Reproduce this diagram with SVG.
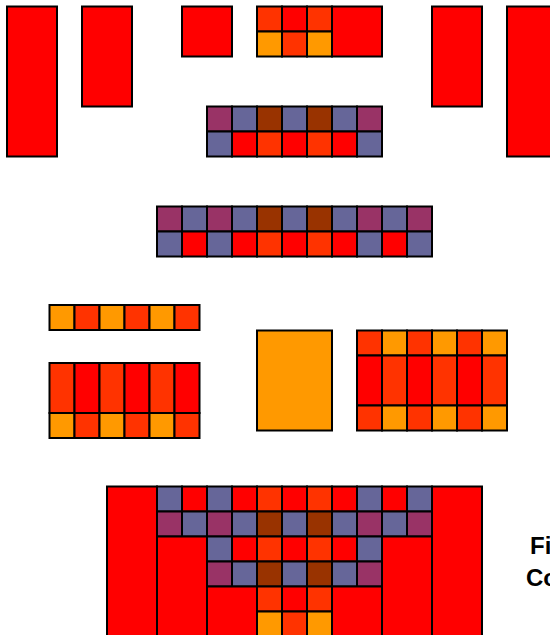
<svg xmlns="http://www.w3.org/2000/svg" width="550" height="635" viewBox="0 0 550 635">
<style>
rect{stroke:#000;stroke-width:2}
rect.bg{fill:#fff;stroke:none}
.r{fill:#FF0000}.o{fill:#FF3300}.y{fill:#FF9900}.p{fill:#993366}.b{fill:#666699}.n{fill:#993300}
text{font-family:"Liberation Sans",Arial,sans-serif;font-weight:bold;font-size:24px;fill:#000}
</style>
<rect class="bg" x="0" y="0" width="550" height="635"/>
<g id="top-row">
<rect class="r" x="7" y="6.5" width="50" height="150"/>
<rect class="r" x="82" y="6.5" width="50" height="100"/>
<rect class="r" x="182" y="6.5" width="50" height="50"/>
<rect class="o" x="257" y="6.5" width="25" height="25"/>
<rect class="r" x="282" y="6.5" width="25" height="25"/>
<rect class="o" x="307" y="6.5" width="25" height="25"/>
<rect class="y" x="257" y="31.5" width="25" height="25"/>
<rect class="o" x="282" y="31.5" width="25" height="25"/>
<rect class="y" x="307" y="31.5" width="25" height="25"/>
<rect class="r" x="332" y="6.5" width="50" height="50"/>
<rect class="r" x="432" y="6.5" width="50" height="100"/>
<rect class="r" x="507" y="6.5" width="50" height="150"/>
</g>
<g id="grid-7">
<rect class="p" x="207" y="106.5" width="25" height="25"/>
<rect class="b" x="232" y="106.5" width="25" height="25"/>
<rect class="n" x="257" y="106.5" width="25" height="25"/>
<rect class="b" x="282" y="106.5" width="25" height="25"/>
<rect class="n" x="307" y="106.5" width="25" height="25"/>
<rect class="b" x="332" y="106.5" width="25" height="25"/>
<rect class="p" x="357" y="106.5" width="25" height="25"/>
<rect class="b" x="207" y="131.5" width="25" height="25"/>
<rect class="r" x="232" y="131.5" width="25" height="25"/>
<rect class="o" x="257" y="131.5" width="25" height="25"/>
<rect class="r" x="282" y="131.5" width="25" height="25"/>
<rect class="o" x="307" y="131.5" width="25" height="25"/>
<rect class="r" x="332" y="131.5" width="25" height="25"/>
<rect class="b" x="357" y="131.5" width="25" height="25"/>
</g>
<g id="grid-11">
<rect class="p" x="157" y="206.5" width="25" height="25"/>
<rect class="b" x="182" y="206.5" width="25" height="25"/>
<rect class="p" x="207" y="206.5" width="25" height="25"/>
<rect class="b" x="232" y="206.5" width="25" height="25"/>
<rect class="n" x="257" y="206.5" width="25" height="25"/>
<rect class="b" x="282" y="206.5" width="25" height="25"/>
<rect class="n" x="307" y="206.5" width="25" height="25"/>
<rect class="b" x="332" y="206.5" width="25" height="25"/>
<rect class="p" x="357" y="206.5" width="25" height="25"/>
<rect class="b" x="382" y="206.5" width="25" height="25"/>
<rect class="p" x="407" y="206.5" width="25" height="25"/>
<rect class="b" x="157" y="231.5" width="25" height="25"/>
<rect class="r" x="182" y="231.5" width="25" height="25"/>
<rect class="b" x="207" y="231.5" width="25" height="25"/>
<rect class="r" x="232" y="231.5" width="25" height="25"/>
<rect class="o" x="257" y="231.5" width="25" height="25"/>
<rect class="r" x="282" y="231.5" width="25" height="25"/>
<rect class="o" x="307" y="231.5" width="25" height="25"/>
<rect class="r" x="332" y="231.5" width="25" height="25"/>
<rect class="b" x="357" y="231.5" width="25" height="25"/>
<rect class="r" x="382" y="231.5" width="25" height="25"/>
<rect class="b" x="407" y="231.5" width="25" height="25"/>
</g>
<g id="left-strip">
<rect class="y" x="49.5" y="305" width="25" height="25"/>
<rect class="o" x="74.5" y="305" width="25" height="25"/>
<rect class="y" x="99.5" y="305" width="25" height="25"/>
<rect class="o" x="124.5" y="305" width="25" height="25"/>
<rect class="y" x="149.5" y="305" width="25" height="25"/>
<rect class="o" x="174.5" y="305" width="25" height="25"/>
</g>
<g id="left-block">
<rect class="o" x="49.5" y="363" width="25" height="50"/>
<rect class="r" x="74.5" y="363" width="25" height="50"/>
<rect class="o" x="99.5" y="363" width="25" height="50"/>
<rect class="r" x="124.5" y="363" width="25" height="50"/>
<rect class="o" x="149.5" y="363" width="25" height="50"/>
<rect class="r" x="174.5" y="363" width="25" height="50"/>
<rect class="y" x="49.5" y="413" width="25" height="25"/>
<rect class="o" x="74.5" y="413" width="25" height="25"/>
<rect class="y" x="99.5" y="413" width="25" height="25"/>
<rect class="o" x="124.5" y="413" width="25" height="25"/>
<rect class="y" x="149.5" y="413" width="25" height="25"/>
<rect class="o" x="174.5" y="413" width="25" height="25"/>
</g>
<g id="orange-block">
<rect class="y" x="257" y="330.5" width="75" height="100"/>
</g>
<g id="right-block">
<rect class="o" x="357" y="330.5" width="25" height="25"/>
<rect class="y" x="382" y="330.5" width="25" height="25"/>
<rect class="o" x="407" y="330.5" width="25" height="25"/>
<rect class="y" x="432" y="330.5" width="25" height="25"/>
<rect class="o" x="457" y="330.5" width="25" height="25"/>
<rect class="y" x="482" y="330.5" width="25" height="25"/>
<rect class="r" x="357" y="355.5" width="25" height="50"/>
<rect class="o" x="382" y="355.5" width="25" height="50"/>
<rect class="r" x="407" y="355.5" width="25" height="50"/>
<rect class="o" x="432" y="355.5" width="25" height="50"/>
<rect class="r" x="457" y="355.5" width="25" height="50"/>
<rect class="o" x="482" y="355.5" width="25" height="50"/>
<rect class="o" x="357" y="405.5" width="25" height="25"/>
<rect class="y" x="382" y="405.5" width="25" height="25"/>
<rect class="o" x="407" y="405.5" width="25" height="25"/>
<rect class="y" x="432" y="405.5" width="25" height="25"/>
<rect class="o" x="457" y="405.5" width="25" height="25"/>
<rect class="y" x="482" y="405.5" width="25" height="25"/>
</g>
<g id="bottom-figure">
<rect class="r" x="107" y="486.5" width="50" height="160"/>
<rect class="r" x="432" y="486.5" width="50" height="160"/>
<rect class="b" x="157" y="486.5" width="25" height="25"/>
<rect class="r" x="182" y="486.5" width="25" height="25"/>
<rect class="b" x="207" y="486.5" width="25" height="25"/>
<rect class="r" x="232" y="486.5" width="25" height="25"/>
<rect class="o" x="257" y="486.5" width="25" height="25"/>
<rect class="r" x="282" y="486.5" width="25" height="25"/>
<rect class="o" x="307" y="486.5" width="25" height="25"/>
<rect class="r" x="332" y="486.5" width="25" height="25"/>
<rect class="b" x="357" y="486.5" width="25" height="25"/>
<rect class="r" x="382" y="486.5" width="25" height="25"/>
<rect class="b" x="407" y="486.5" width="25" height="25"/>
<rect class="p" x="157" y="511.5" width="25" height="25"/>
<rect class="b" x="182" y="511.5" width="25" height="25"/>
<rect class="p" x="207" y="511.5" width="25" height="25"/>
<rect class="b" x="232" y="511.5" width="25" height="25"/>
<rect class="n" x="257" y="511.5" width="25" height="25"/>
<rect class="b" x="282" y="511.5" width="25" height="25"/>
<rect class="n" x="307" y="511.5" width="25" height="25"/>
<rect class="b" x="332" y="511.5" width="25" height="25"/>
<rect class="p" x="357" y="511.5" width="25" height="25"/>
<rect class="b" x="382" y="511.5" width="25" height="25"/>
<rect class="p" x="407" y="511.5" width="25" height="25"/>
<rect class="r" x="157" y="536.5" width="50" height="110"/>
<rect class="r" x="382" y="536.5" width="50" height="110"/>
<rect class="b" x="207" y="536.5" width="25" height="25"/>
<rect class="r" x="232" y="536.5" width="25" height="25"/>
<rect class="o" x="257" y="536.5" width="25" height="25"/>
<rect class="r" x="282" y="536.5" width="25" height="25"/>
<rect class="o" x="307" y="536.5" width="25" height="25"/>
<rect class="r" x="332" y="536.5" width="25" height="25"/>
<rect class="b" x="357" y="536.5" width="25" height="25"/>
<rect class="p" x="207" y="561.5" width="25" height="25"/>
<rect class="b" x="232" y="561.5" width="25" height="25"/>
<rect class="n" x="257" y="561.5" width="25" height="25"/>
<rect class="b" x="282" y="561.5" width="25" height="25"/>
<rect class="n" x="307" y="561.5" width="25" height="25"/>
<rect class="b" x="332" y="561.5" width="25" height="25"/>
<rect class="p" x="357" y="561.5" width="25" height="25"/>
<rect class="r" x="207" y="586.5" width="50" height="60"/>
<rect class="r" x="332" y="586.5" width="50" height="60"/>
<rect class="o" x="257" y="586.5" width="25" height="25"/>
<rect class="r" x="282" y="586.5" width="25" height="25"/>
<rect class="o" x="307" y="586.5" width="25" height="25"/>
<rect class="y" x="257" y="611.5" width="25" height="25"/>
<rect class="o" x="282" y="611.5" width="25" height="25"/>
<rect class="y" x="307" y="611.5" width="25" height="25"/>
</g>
<g id="caption">
<text x="530" y="554">Fi</text>
<text x="526" y="586">Co</text>
</g>
</svg>
